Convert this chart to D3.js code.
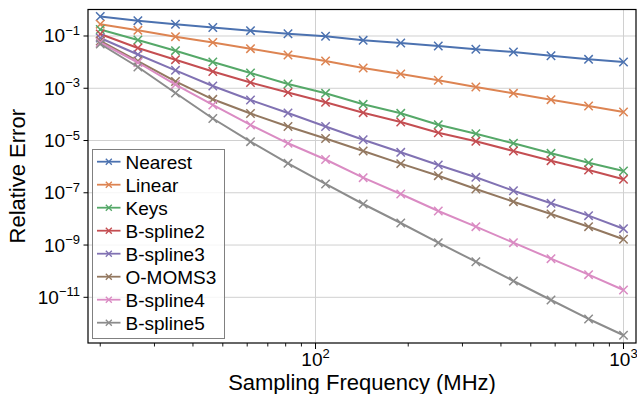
<!DOCTYPE html>
<html>
<head>
<meta charset="utf-8">
<script src="https://cdn.jsdelivr.net/npm/d3@7"></script>
<style>
  html, body { margin: 0; padding: 0; background: #fff; }
  svg { display: block; }
  text { font-family: "Liberation Sans", Arial, Helvetica, sans-serif; fill: #000; }
</style>
</head>
<body>
<svg id="chart" width="637" height="394"></svg>
<script>
// ---- data ----
const frequencies = [20, 26.5, 35.1, 46.4, 61.5, 81.4, 107.8, 142.8, 189.1, 250.4, 331.6, 439.2, 581.6, 770.2, 1000];
const seriesNames = ["Nearest", "Linear", "Keys", "B-spline2", "B-spline3", "O-MOMS3", "B-spline4", "B-spline5"];
const nearest   = [0.557, 0.386, 0.281, 0.211, 0.160, 0.122, 0.0975, 0.0684, 0.0540, 0.0414, 0.0310, 0.0244, 0.0176, 0.0128, 0.0101];
const linear    = [0.283, 0.165, 0.094, 0.0564, 0.0327, 0.0187, 0.0110, 5.96e-3, 3.52e-3, 2.02e-3, 1.12e-3, 6.41e-4, 3.65e-4, 2.09e-4, 1.23e-4];
const keys      = [0.177, 0.0703, 0.0274, 0.0101, 3.84e-3, 1.46e-3, 6.41e-4, 2.43e-4, 1.10e-4, 4.03e-5, 1.82e-5, 7.83e-6, 3.24e-6, 1.42e-6, 6.82e-7];
const bspline2  = [0.119, 0.0347, 0.0124, 4.38e-3, 1.66e-3, 6.89e-4, 2.90e-4, 1.16e-4, 5.12e-5, 1.99e-5, 9.33e-6, 3.97e-6, 1.69e-6, 7.45e-7, 3.28e-7];
const bspline3  = [0.0838, 0.0196, 4.86e-3, 1.22e-3, 3.56e-4, 1.13e-4, 3.44e-5, 1.07e-5, 3.54e-6, 1.16e-6, 3.91e-7, 1.20e-7, 3.95e-8, 1.33e-8, 4.22e-9];
const omoms3    = [0.0644, 0.0110, 1.82e-3, 3.78e-4, 1.08e-4, 3.44e-5, 1.19e-5, 3.97e-6, 1.30e-6, 4.51e-7, 1.40e-7, 4.56e-8, 1.54e-8, 5.04e-9, 1.66e-9];
const bspline4  = [0.0564, 9.68e-3, 1.39e-3, 2.29e-4, 3.93e-5, 7.83e-6, 1.88e-6, 3.78e-7, 8.98e-8, 2.01e-8, 5.04e-9, 1.23e-9, 3.00e-10, 7.33e-11, 1.90e-11];
const bspline5  = [0.0494, 6.52e-3, 6.59e-4, 6.97e-5, 9.02e-6, 1.34e-6, 2.17e-7, 3.72e-8, 6.98e-9, 1.23e-9, 2.30e-10, 4.21e-11, 7.88e-12, 1.48e-12, 3.52e-13];
const colors = ["#4C72B0", "#DD8452", "#55A868", "#C44E52", "#8172B3", "#937860", "#DA8BC3", "#8C8C8C"];
const yTickValues = [1e-1, 1e-3, 1e-5, 1e-7, 1e-9, 1e-11];
const yTickExponents = ["−1", "−3", "−5", "−7", "−9", "−11"];
const xMajorTicks = [100, 1000];
const xMajorExponents = ["2", "3"];
const xMinorTicks = [20, 30, 40, 50, 60, 70, 80, 90, 200, 300, 400, 500, 600, 700, 800, 900];
const xLabel = "Sampling Frequency (MHz)";
const yLabel = "Relative Error";

const allSeries = [nearest, linear, keys, bspline2, bspline3, omoms3, bspline4, bspline5];

// ---- layout ----
const L = 88, R = 636, T = 9.5, B = 343;
const svg = d3.select("#chart");

const x = d3.scaleLog().domain([18.25, 1098]).range([L, R]);
const y = d3.scaleLog().domain([Math.pow(10, -12.749), Math.pow(10, 0.014)]).range([B, T]);

// grid
const grid = svg.append("g");
grid.selectAll("line.gy").data(yTickValues).enter().append("line")
  .attr("x1", L).attr("x2", R)
  .attr("y1", d => y(d)).attr("y2", d => y(d))
  .attr("stroke", "#d0d0d0").attr("stroke-width", 1);
grid.selectAll("line.gx").data(xMajorTicks).enter().append("line")
  .attr("y1", T).attr("y2", B)
  .attr("x1", d => x(d)).attr("x2", d => x(d))
  .attr("stroke", "#d0d0d0").attr("stroke-width", 1);

// series
const line = d3.line().x((d, i) => x(frequencies[i])).y(d => y(d));
const plot = svg.append("g");
const ms = 4.2;
allSeries.forEach((vals, si) => {
  const g = plot.append("g");
  g.append("path").datum(vals).attr("d", line)
    .attr("fill", "none").attr("stroke", colors[si]).attr("stroke-width", 2)
    .attr("stroke-linejoin", "round");
  g.selectAll("path.m").data(vals).enter().append("path")
    .attr("d", (d, i) => {
      const cx = x(frequencies[i]), cy = y(d);
      return `M${cx - ms},${cy - ms}L${cx + ms},${cy + ms}M${cx - ms},${cy + ms}L${cx + ms},${cy - ms}`;
    })
    .attr("stroke", colors[si]).attr("stroke-width", 1.5).attr("fill", "none");
});

// spines
svg.append("rect").attr("x", L).attr("y", T).attr("width", R - L).attr("height", B - T)
  .attr("fill", "none").attr("stroke", "#000").attr("stroke-width", 1.2);

// y ticks
const yt = svg.append("g");
yTickValues.forEach((v, i) => {
  const yy = y(v);
  yt.append("line").attr("x1", L - 4.5).attr("x2", L).attr("y1", yy).attr("y2", yy)
    .attr("stroke", "#000").attr("stroke-width", 1);
  const t = yt.append("text").attr("x", L - 8).attr("y", yy + 6.5)
    .attr("text-anchor", "end").attr("font-size", 19);
  t.append("tspan").text("10");
  t.append("tspan").attr("dy", -7.5).attr("font-size", 13).text(yTickExponents[i]);
});

// x ticks
const xt = svg.append("g");
xMinorTicks.forEach(v => {
  xt.append("line").attr("x1", x(v)).attr("x2", x(v)).attr("y1", B).attr("y2", B + 3.5)
    .attr("stroke", "#000").attr("stroke-width", 0.9);
});
xMajorTicks.forEach((v, i) => {
  xt.append("line").attr("x1", x(v)).attr("x2", x(v)).attr("y1", B).attr("y2", B + 6)
    .attr("stroke", "#000").attr("stroke-width", 1);
  const t = xt.append("text").attr("x", x(v)).attr("y", 365.5)
    .attr("text-anchor", "middle").attr("font-size", 19);
  t.append("tspan").text("10");
  t.append("tspan").attr("dy", -7.5).attr("font-size", 13).text(xMajorExponents[i]);
});

// axis labels
svg.append("text").attr("x", (L + R) / 2).attr("y", 390)
  .attr("text-anchor", "middle").attr("font-size", 22).text(xLabel);
svg.append("text").attr("transform", `translate(25,${(T + B) / 2}) rotate(-90)`)
  .attr("text-anchor", "middle").attr("font-size", 22).text(yLabel);

// legend
const lg = svg.append("g");
lg.append("rect").attr("x", 92.5).attr("y", 149.5).attr("width", 132).attr("height", 189)
  .attr("fill", "#fff").attr("fill-opacity", 0.8).attr("stroke", "#808080").attr("stroke-width", 1);
seriesNames.forEach((name, i) => {
  const cy = 161.7 + i * 23;
  lg.append("line").attr("x1", 97).attr("x2", 120.5).attr("y1", cy).attr("y2", cy)
    .attr("stroke", colors[i]).attr("stroke-width", 1.8);
  const cx = 108.8, m = 3;
  lg.append("path").attr("d", `M${cx - m},${cy - m}L${cx + m},${cy + m}M${cx - m},${cy + m}L${cx + m},${cy - m}`)
    .attr("stroke", colors[i]).attr("stroke-width", 1.3).attr("fill", "none");
  lg.append("text").attr("x", 125.5).attr("y", cy + 6.8).attr("font-size", 19).text(name);
});
</script>
</body>
</html>
